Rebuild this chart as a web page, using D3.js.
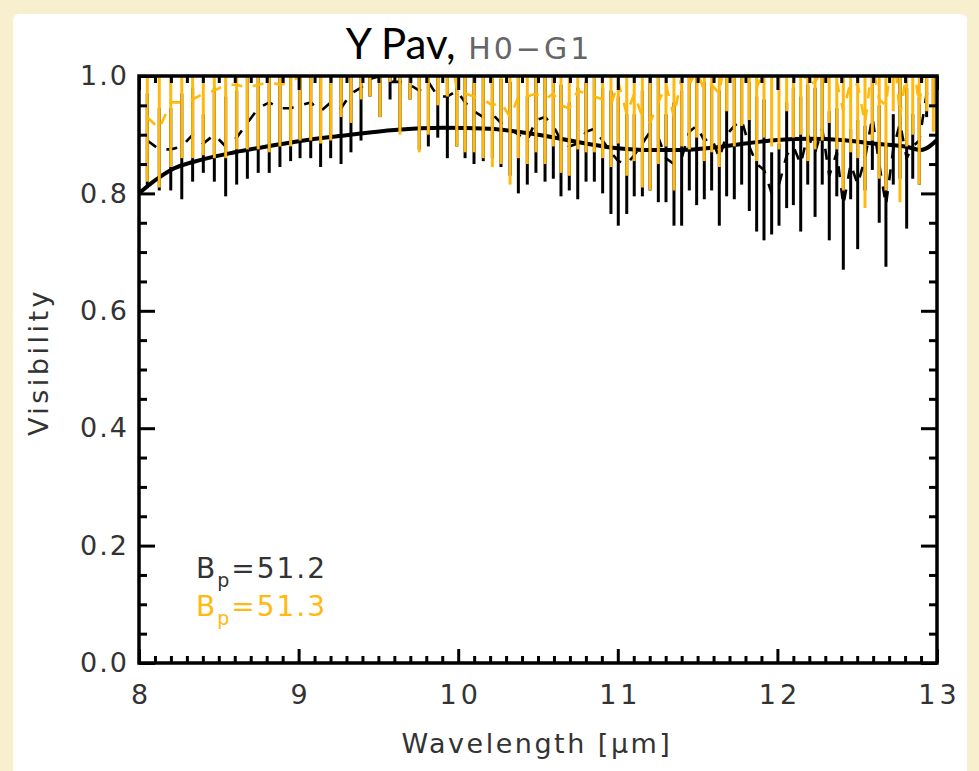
<!DOCTYPE html>
<html><head><meta charset="utf-8">
<script src="https://cdn.jsdelivr.net/npm/d3@7"></script>
<style>
html,body{margin:0;padding:0;background:#f8efcf;}
svg{display:block;}
</style></head>
<body>
<svg id="chart" width="979" height="771"></svg>
<script>
// ---- data ----
const wavelength = [8.052,8.127,8.199,8.268,8.336,8.403,8.472,8.543,8.612,8.679,8.747,8.816,8.883,8.950,9.009,9.076,9.138,9.201,9.266,9.328,9.391,9.447,9.510,9.573,9.635,9.698,9.756,9.813,9.872,9.932,9.991,10.043,10.099,10.157,10.214,10.268,10.325,10.377,10.433,10.487,10.544,10.596,10.644,10.696,10.749,10.801,10.853,10.905,10.957,11.003,11.056,11.103,11.154,11.202,11.254,11.302,11.352,11.400,11.448,11.494,11.542,11.588,11.636,11.682,11.730,11.776,11.824,11.870,11.916,11.964,12.010,12.058,12.100,12.146,12.190,12.236,12.281,12.325,12.372,12.413,12.459,12.503,12.549,12.595,12.638,12.680,12.726,12.768,12.810,12.848,12.889,12.935,12.977];
const visBlack = [0.890,0.875,0.875,0.880,0.900,0.885,0.900,0.880,0.895,0.920,0.945,0.955,0.945,0.945,0.950,0.955,0.940,0.955,0.945,0.970,0.980,0.995,1.000,0.990,0.990,0.985,0.975,0.990,0.965,0.965,0.975,0.955,0.940,0.930,0.935,0.920,0.910,0.900,0.890,0.925,0.930,0.915,0.890,0.880,0.885,0.905,0.910,0.890,0.870,0.855,0.850,0.865,0.885,0.905,0.895,0.860,0.850,0.860,0.905,0.915,0.890,0.895,0.860,0.900,0.915,0.925,0.880,0.850,0.840,0.800,0.815,0.865,0.880,0.850,0.900,0.870,0.910,0.830,0.870,0.780,0.850,0.815,0.860,0.930,0.850,0.780,0.875,0.920,0.860,0.880,0.890,0.970,0.980];
const errBlack = [0.080,0.070,0.070,0.090,0.080,0.050,0.080,0.085,0.080,0.095,0.110,0.120,0.100,0.090,0.090,0.095,0.095,0.095,0.095,0.100,0.090,0.030,0.070,0.030,0.080,0.025,0.100,0.110,0.070,0.105,0.095,0.095,0.090,0.075,0.075,0.075,0.080,0.100,0.075,0.090,0.110,0.090,0.095,0.075,0.095,0.085,0.090,0.090,0.105,0.110,0.085,0.070,0.090,0.100,0.110,0.075,0.105,0.115,0.100,0.135,0.100,0.090,0.115,0.105,0.125,0.110,0.110,0.115,0.120,0.070,0.070,0.090,0.100,0.115,0.085,0.110,0.095,0.110,0.075,0.110,0.060,0.110,0.055,0.090,0.100,0.105,0.060,0.095,0.120,0.055,0.075,0.040,0.030];
const visOrange = [0.930,0.910,0.955,0.955,0.960,0.970,0.975,0.985,0.985,0.980,0.985,0.990,0.985,0.990,1.000,1.000,1.000,1.010,1.030,1.020,1.050,1.060,1.040,1.080,1.010,1.060,1.000,1.010,1.040,1.060,0.980,0.970,0.965,0.960,0.950,0.955,0.930,0.965,0.965,0.970,0.960,0.970,0.950,0.945,0.975,0.970,0.965,0.960,0.950,0.990,0.935,0.970,0.930,0.920,0.955,0.985,0.930,1.000,0.985,1.010,0.975,0.985,0.970,1.050,1.000,1.030,1.040,0.980,1.010,1.000,0.995,1.050,1.010,1.020,0.985,0.990,1.010,1.040,0.990,0.940,0.990,0.985,0.920,1.020,0.960,0.950,1.060,0.930,1.010,1.030,0.950,1.060,1.030];
const errOrange = [0.110,0.100,0.110,0.095,0.100,0.105,0.115,0.125,0.110,0.105,0.110,0.120,0.105,0.110,0.110,0.110,0.115,0.120,0.100,0.100,0.090,0.095,0.110,0.090,0.110,0.100,0.130,0.110,0.090,0.095,0.100,0.100,0.095,0.100,0.105,0.105,0.115,0.105,0.115,0.100,0.110,0.090,0.115,0.115,0.100,0.100,0.095,0.100,0.105,0.105,0.105,0.115,0.120,0.115,0.105,0.105,0.125,0.120,0.110,0.115,0.120,0.115,0.125,0.110,0.120,0.115,0.115,0.125,0.115,0.120,0.120,0.110,0.115,0.120,0.130,0.115,0.120,0.120,0.115,0.135,0.120,0.125,0.145,0.130,0.135,0.145,0.120,0.145,0.130,0.130,0.135,0.120,0.125];
const modelWave = [8.0,8.1,8.2,8.4,8.6,8.8,9.0,9.3,9.6,9.9,10.2,10.5,10.8,11.0,11.2,11.4,11.6,11.8,12.0,12.2,12.4,12.6,12.8,12.9,13.0];
const modelVis  = [0.800,0.822,0.840,0.858,0.870,0.880,0.889,0.899,0.908,0.912,0.910,0.900,0.885,0.877,0.874,0.874,0.878,0.885,0.891,0.893,0.891,0.885,0.880,0.874,0.891];
const xTicks = [8,9,10,11,12,13];
const yTicks = [0.0,0.2,0.4,0.6,0.8,1.0];
const legendLabels = ["51.2","51.3"];
const titleMain = "Y Pav,";
const titleSub = "H0\u2212G1";

// ---- layout ----
const svg = d3.select("#chart");
const L = 139, R = 937, T = 76, B = 663;
const x = d3.scaleLinear().domain([8,13]).range([L,R]);
const y = d3.scaleLinear().domain([0,1]).range([B,T]);
const black = "#000", orange = "#ffb90f";

// white panel
svg.append("rect").attr("x",13).attr("y",14).attr("width",954).attr("height",780)
  .attr("rx",6).attr("fill","#fff");

svg.append("clipPath").attr("id","clip").append("rect")
  .attr("x",L).attr("y",T).attr("width",R-L).attr("height",B-T);
const plot = svg.append("g").attr("clip-path","url(#clip)");

const idx = d3.range(wavelength.length);
function drawSeries(vals, errs, color){
  plot.append("g").selectAll("line").data(idx).join("line")
    .attr("x1",i=>x(wavelength[i])).attr("x2",i=>x(wavelength[i]))
    .attr("y1",i=>y(vals[i]-errs[i])).attr("y2",i=>y(vals[i]+errs[i]))
    .attr("stroke",color).attr("stroke-width",3);
  plot.append("path").datum(idx)
    .attr("d",d3.line().x(i=>x(wavelength[i])).y(i=>y(vals[i])))
    .attr("fill","none").attr("stroke",color).attr("stroke-width",2.6)
    .attr("stroke-dasharray","11,11");
}
drawSeries(visBlack, errBlack, black);
plot.append("path").datum(d3.range(modelWave.length))
  .attr("d",d3.line().curve(d3.curveMonotoneX).x(i=>x(modelWave[i])).y(i=>y(modelVis[i])))
  .attr("fill","none").attr("stroke",black).attr("stroke-width",4);
drawSeries(visOrange, errOrange, orange);

// ---- axes ----
const fontTick = "'DejaVu Sans', sans-serif";
const tickFill = "#333";
const xMinor = d3.range(81,130).map(v=>v/10).filter(v=>Math.abs(v-Math.round(v))>1e-6);
const yMinor = d3.range(1,20).map(v=>v/20).filter(v=>Math.abs(v*5-Math.round(v*5))>1e-6);

function styleAxis(g){ g.select(".domain").remove(); g.selectAll(".tick line").attr("stroke","#000").attr("stroke-width",3); }

const gxb = svg.append("g").attr("transform",`translate(0,${B})`)
  .call(d3.axisBottom(x).tickValues(xTicks).tickSize(-14).tickPadding(22).tickFormat(d3.format("d")));
styleAxis(gxb);
gxb.selectAll("text").attr("font-family",fontTick).attr("font-size",27).attr("fill",tickFill).attr("letter-spacing",4).attr("dx",2);
svg.append("g").attr("transform",`translate(0,${B})`).call(d3.axisBottom(x).tickValues(xMinor).tickSize(-7).tickFormat("")).call(styleAxis);
svg.append("g").attr("transform",`translate(0,${T})`).call(d3.axisTop(x).tickValues(xTicks).tickSize(-14).tickFormat("")).call(styleAxis);
svg.append("g").attr("transform",`translate(0,${T})`).call(d3.axisTop(x).tickValues(xMinor).tickSize(-7).tickFormat("")).call(styleAxis);

const gyl = svg.append("g").attr("transform",`translate(${L},0)`)
  .call(d3.axisLeft(y).tickValues(yTicks).tickSize(-16).tickPadding(10).tickFormat(d3.format(".1f")));
styleAxis(gyl);
gyl.selectAll("text").attr("font-family",fontTick).attr("font-size",27).attr("fill",tickFill).attr("letter-spacing",2);
svg.append("g").attr("transform",`translate(${L},0)`).call(d3.axisLeft(y).tickValues(yMinor).tickSize(-8).tickFormat("")).call(styleAxis);
svg.append("g").attr("transform",`translate(${R},0)`).call(d3.axisRight(y).tickValues(yTicks).tickSize(-16).tickFormat("")).call(styleAxis);
svg.append("g").attr("transform",`translate(${R},0)`).call(d3.axisRight(y).tickValues(yMinor).tickSize(-8).tickFormat("")).call(styleAxis);

// frame
svg.append("rect").attr("x",L).attr("y",T).attr("width",R-L).attr("height",B-T)
  .attr("fill","none").attr("stroke","#000").attr("stroke-width",3.5);

// ---- titles ----
const title = svg.append("text").attr("x",469).attr("y",59).attr("text-anchor","middle");
title.append("tspan").text(titleMain).attr("font-family","Lato, 'Open Sans', sans-serif").attr("font-size",42).attr("fill","#000");
title.append("tspan").text(" "+titleSub).attr("font-family",fontTick).attr("font-size",30).attr("fill","#666").attr("letter-spacing",3);

svg.append("text").attr("x",537).attr("y",753).attr("text-anchor","middle")
  .attr("font-family",fontTick).attr("font-size",27).attr("fill",tickFill).attr("letter-spacing",2.5).text("Wavelength [\u03bcm]");
svg.append("text").attr("transform","translate(48,362) rotate(-90)").attr("text-anchor","middle")
  .attr("font-family",fontTick).attr("font-size",27).attr("fill",tickFill).attr("letter-spacing",3.5).text("Visibility");

// legend
[black, orange].forEach((c,k)=>{
  const t = svg.append("text").attr("x",196).attr("y",578+k*38)
    .attr("font-family",fontTick).attr("font-size",28).attr("fill",k===0?"#333":orange).attr("letter-spacing",2);
  t.append("tspan").text("B");
  t.append("tspan").text("p").attr("font-size",19).attr("dy",9);
  t.append("tspan").text("=" + legendLabels[k]).attr("dy",-9);
});
</script>
</body></html>
